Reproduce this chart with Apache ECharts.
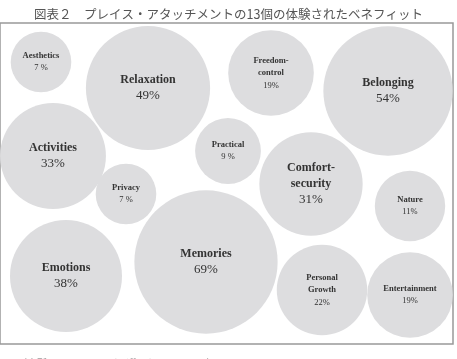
<!DOCTYPE html>
<html>
<head>
<meta charset="utf-8">
<script src="https://cdn.jsdelivr.net/npm/echarts@6/dist/echarts.min.js"></script>
<style>
  html, body { margin: 0; padding: 0; background: #fff; }
  #container { width: 457px; height: 359px; }
</style>
</head>
<body>
<div id="container"></div>
<script>
var dom = document.getElementById('container');
var myChart = echarts.init(dom, null, { renderer: 'canvas', useDirtyRect: false });

// 13 benefits, share of respondents (%)
var names = ['Aesthetics', 'Relaxation', 'Freedom-\ncontrol', 'Belonging', 'Activities', 'Practical',
  'Comfort-\nsecurity', 'Privacy', 'Nature', 'Emotions', 'Memories', 'Personal\nGrowth', 'Entertainment'];
var values = [7, 49, 19, 54, 33, 9, 31, 7, 11, 38, 69, 22, 19];
// bubble layout (centre of each bubble on the packing plane)
var posX = [41, 148, 271, 388, 53, 228, 311, 126, 410, 66, 206, 322, 410];
var posY = [39, 65, 50, 68, 133, 128, 161, 171, 183, 253, 239, 267, 272];

var pctText = function (v) { return v < 10 ? v + ' %' : v + '%'; };

var seriesData = names.map(function (n, i) {
  var big = values[i] >= 30;
  return {
    name: n,
    value: [posX[i], posY[i], values[i]],
    label: {
      formatter: big ? '{n|' + n.split('\n').join('}\n{n|') + '}\n{p|' + pctText(values[i]) + '}'
                     : '{s|' + n.split('\n').join('}\n{s|') + '}\n{q|' + pctText(values[i]) + '}'
    }
  };
});

var option = {
  animation: false,
  backgroundColor: '#fff',
  title: [
    {
      text: '図表２　プレイス・アタッチメントの13個の体験されたベネフィット',
      left: 'center',
      top: 3,
      textStyle: { fontFamily: 'Noto Sans CJK JP', fontSize: 12.5, fontWeight: 'normal', color: '#555' }
    },
    {
      text: '（出所：Scannell and Gifford 2017, p.000）',
      left: 12,
      top: 353,
      textStyle: { fontFamily: 'Noto Sans CJK JP', fontSize: 10, fontWeight: 'normal', color: '#999' }
    }
  ],
  grid: {
    left: 0, top: 23, right: 4, bottom: 15,
    show: true,
    borderColor: '#999',
    borderWidth: 1.5,
    backgroundColor: '#fff'
  },
  xAxis: { type: 'value', min: 0, max: 453, show: false },
  yAxis: { type: 'value', min: 0, max: 321, inverse: true, show: false },
  series: [
    {
      type: 'scatter',
      clip: false,
      symbolSize: function (v) { return 2 * (11 + 7.3 * Math.sqrt(v[2])); },
      itemStyle: { color: '#dddddf', opacity: 1 },
      label: {
        show: true,
        position: 'inside',
        color: '#333',
        rich: {
          n: { fontFamily: 'Liberation Serif', fontWeight: 'bold', fontSize: 12, lineHeight: 16, color: '#333' },
          p: { fontFamily: 'Liberation Serif', fontSize: 13, lineHeight: 16, color: '#333' },
          s: { fontFamily: 'Liberation Serif', fontWeight: 'bold', fontSize: 8.5, lineHeight: 12.5, color: '#333' },
          q: { fontFamily: 'Liberation Serif', fontSize: 8.5, lineHeight: 12.5, color: '#333' }
        }
      },
      emphasis: { disabled: true },
      data: seriesData
    }
  ]
};

myChart.setOption(option);

window.addEventListener('resize', function () {
  myChart.resize();
});
</script>
</body>
</html>
